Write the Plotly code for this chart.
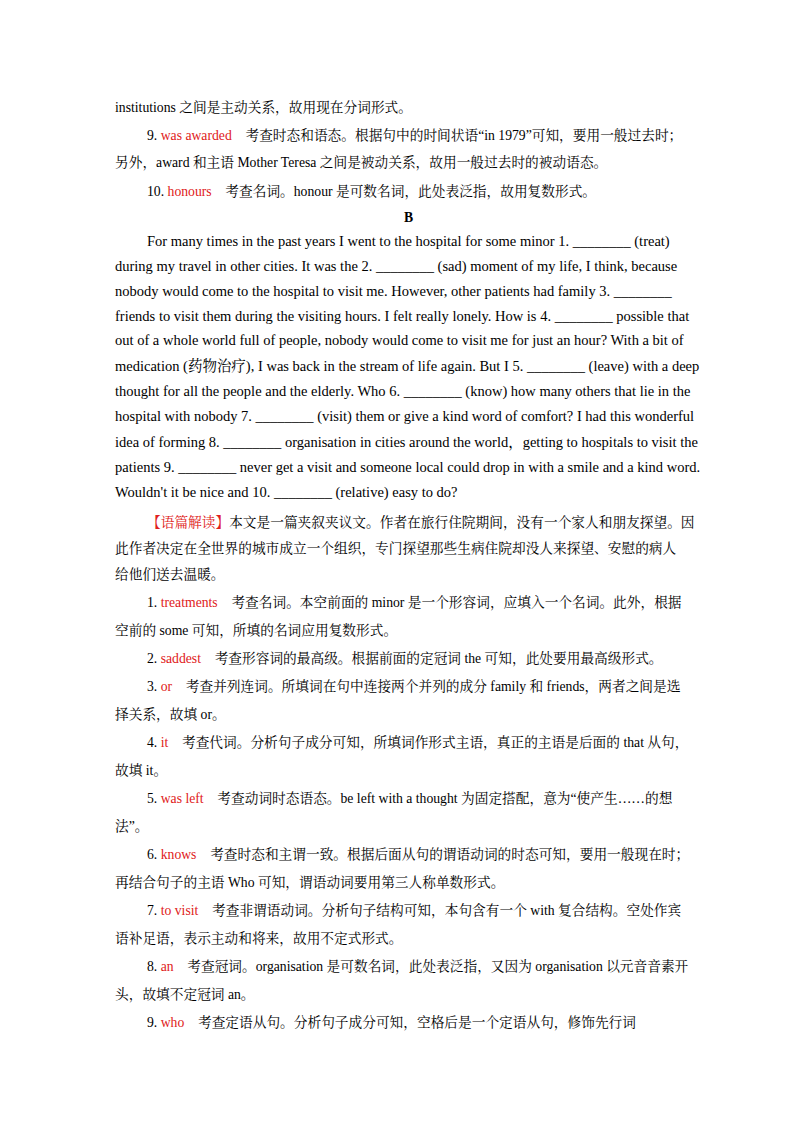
import plotly.graph_objects as go

R = lambda s: f"<span style='color:#e02020'>{s}</span>"

line_y = [107,135,162,191,217,241,266,291,316,340,366,391,416,442,467,492,522,548,574,602,630,658,686,714,742,770,798,826,854,882,910,938,966,994,1022]
line_x = [115,147,115,147,400,147,115,115,115,115,115,115,115,115,115,115,147,115,115,147,115,147,147,115,147,115,147,115,147,115,147,115,147,115,147]
line_text = [
 "institutions 之间是主动关系，故用现在分词形式。",
 "9. "+R("was awarded")+"　考查时态和语态。根据句中的时间状语“in 1979”可知，要用一般过去时；",
 "另外，award 和主语 Mother Teresa 之间是被动关系，故用一般过去时的被动语态。",
 "10. "+R("honours")+"　考查名词。honour 是可数名词，此处表泛指，故用复数形式。",
 "<b>B</b>",
 "For many times in the past years I went to the hospital for some minor 1. ________ (treat)",
 "during my travel in other cities. It was the 2. ________ (sad) moment of my life, I think, because",
 "nobody would come to the hospital to visit me. However, other patients had family 3. ________",
 "friends to visit them during the visiting hours. I felt really lonely. How is 4. ________ possible that",
 "out of a whole world full of people, nobody would come to visit me for just an hour? With a bit of",
 "medication (药物治疗), I was back in the stream of life again. But I 5. ________ (leave) with a deep",
 "thought for all the people and the elderly. Who 6. ________ (know) how many others that lie in the",
 "hospital with nobody 7. ________ (visit) them or give a kind word of comfort? I had this wonderful",
 "idea of forming 8. ________ organisation in cities around the world，getting to hospitals to visit the",
 "patients 9. ________ never get a visit and someone local could drop in with a smile and a kind word.",
 "Wouldn't it be nice and 10. ________ (relative) easy to do?",
 R("【语篇解读】")+"本文是一篇夹叙夹议文。作者在旅行住院期间，没有一个家人和朋友探望。因",
 "此作者决定在全世界的城市成立一个组织，专门探望那些生病住院却没人来探望、安慰的病人",
 "给他们送去温暖。",
 "1. "+R("treatments")+"　考查名词。本空前面的 minor 是一个形容词，应填入一个名词。此外，根据",
 "空前的 some 可知，所填的名词应用复数形式。",
 "2. "+R("saddest")+"　考查形容词的最高级。根据前面的定冠词 the 可知，此处要用最高级形式。",
 "3. "+R("or")+"　考查并列连词。所填词在句中连接两个并列的成分 family 和 friends，两者之间是选",
 "择关系，故填 or。",
 "4. "+R("it")+"　考查代词。分析句子成分可知，所填词作形式主语，真正的主语是后面的 that 从句，",
 "故填 it。",
 "5. "+R("was left")+"　考查动词时态语态。be left with a thought 为固定搭配，意为“使产生……的想",
 "法”。",
 "6. "+R("knows")+"　考查时态和主谓一致。根据后面从句的谓语动词的时态可知，要用一般现在时；",
 "再结合句子的主语 Who 可知，谓语动词要用第三人称单数形式。",
 "7. "+R("to visit")+"　考查非谓语动词。分析句子结构可知，本句含有一个 with 复合结构。空处作宾",
 "语补足语，表示主动和将来，故用不定式形式。",
 "8. "+R("an")+"　考查冠词。organisation 是可数名词，此处表泛指，又因为 organisation 以元音音素开",
 "头，故填不定冠词 an。",
 "9. "+R("who")+"　考查定语从句。分析句子成分可知，空格后是一个定语从句，修饰先行词",
]

fig = go.Figure()
for x, y, t in zip(line_x, line_y, line_text):
    en = t.startswith(("For","during","nobody","friends","out of","medication","thought","hospital","idea","patients","Wouldn"))
    fig.add_annotation(x=x if x == 400 else x - 10, y=y - 8, text=t, showarrow=False,
                       xanchor="center" if x == 400 else "left",
                       yanchor="middle", font=dict(size=14.5 if en else 13.7, color="black",
                       family="Liberation Serif, Noto Serif CJK SC, Noto Sans CJK SC"))
fig.update_xaxes(range=[0,800], visible=False, fixedrange=True)
fig.update_yaxes(range=[1132,0], visible=False, fixedrange=True)
fig.update_layout(width=800, height=1132, margin=dict(l=0,r=0,t=0,b=0),
                  paper_bgcolor="white", plot_bgcolor="white", showlegend=False)
fig.write_html("out.html")
